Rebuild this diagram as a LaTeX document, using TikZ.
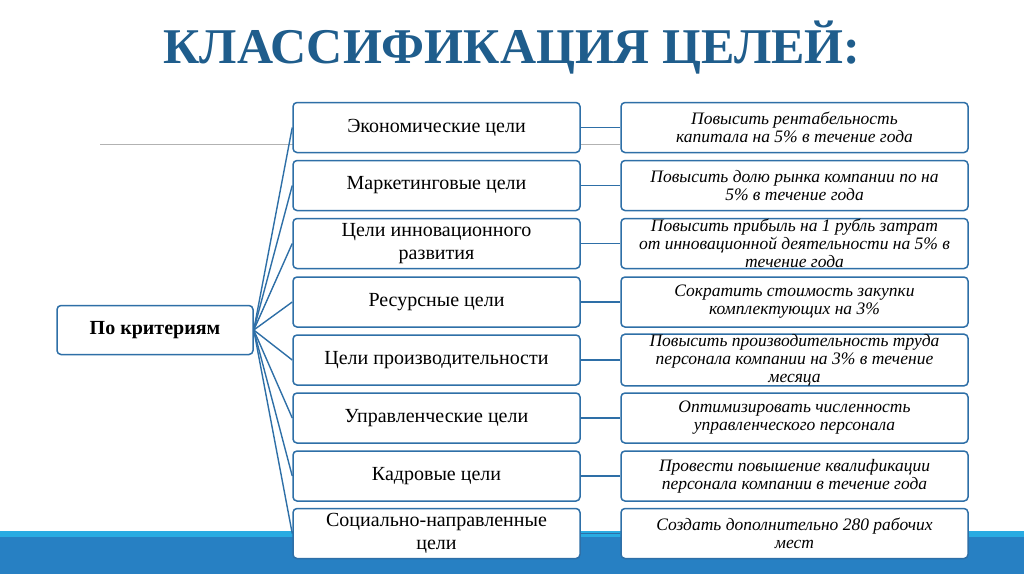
\documentclass[tikz,border=0pt]{standalone}
\usepackage{fontspec}
\setmainfont{Liberation Serif}
\begin{document}
\begin{tikzpicture}[x=1pt,y=-1pt,
  bx/.style={draw=edge,line width=1.5pt,rounded corners=4pt,fill=white,inner sep=0pt,align=center},
  mid/.style={bx,minimum width=287pt,minimum height=50pt,font=\fontsize{20}{23}\selectfont},
  rt/.style={bx,minimum width=347pt,minimum height=50pt,font=\fontsize{17.5}{18}\selectfont\itshape},
  ln/.style={draw=edge,line width=1.4pt}]
\definecolor{edge}{HTML}{2E6FA7}
\definecolor{ttl}{HTML}{1F5D8C}
\definecolor{band}{HTML}{2780C3}
\definecolor{stripe}{HTML}{29ABE2}
\useasboundingbox (0,0) rectangle (1024,574);
\fill[white] (0,0) rectangle (1024,574);
\fill[stripe] (0,531) rectangle (1024,537);
\fill[band] (0,537) rectangle (1024,574);
\draw[gray!60,line width=0.8pt] (100,144) -- (620,144);
\node[font=\fontsize{50}{54}\selectfont\bfseries,text=ttl] (title) at (512,48) {КЛАССИФИКАЦИЯ ЦЕЛЕЙ:};
\node[bx,minimum width=196pt,minimum height=49pt,font=\fontsize{20}{22}\selectfont\bfseries] (root) at (155,330) {По критериям};
\foreach \i/\y/\m/\r in {
 1/127.5/{Экономические цели}/{Повысить рентабельность\\капитала на 5\% в течение года},
 2/185.5/{Маркетинговые цели}/{Повысить долю рынка компании по на\\5\% в течение года},
 3/243.5/{Цели инновационного\\развития}/{Повысить прибыль на 1 рубль затрат\\от инновационной деятельности на 5\% в\\течение года},
 4/302/{Ресурсные цели}/{Сократить стоимость закупки\\комплектующих на 3\%},
 5/360/{Цели производительности}/{Повысить производительность труда\\персонала компании на 3\% в течение\\месяца},
 6/418/{Управленческие цели}/{Оптимизировать численность\\управленческого персонала},
 7/476/{Кадровые цели}/{Провести повышение квалификации\\персонала компании в течение года},
 8/533.5/{Социально-направленные\\цели}/{Создать дополнительно 280 рабочих\\мест}}{
  \node[mid] (m\i) at (436.5,\y) {\m};
  \node[rt] (r\i) at (794.5,\y) {\r};
  \draw[ln] (root.east) -- (m\i.west);
  \draw[ln] (m\i.east) -- (r\i.west);
}
\end{tikzpicture}
\end{document}
